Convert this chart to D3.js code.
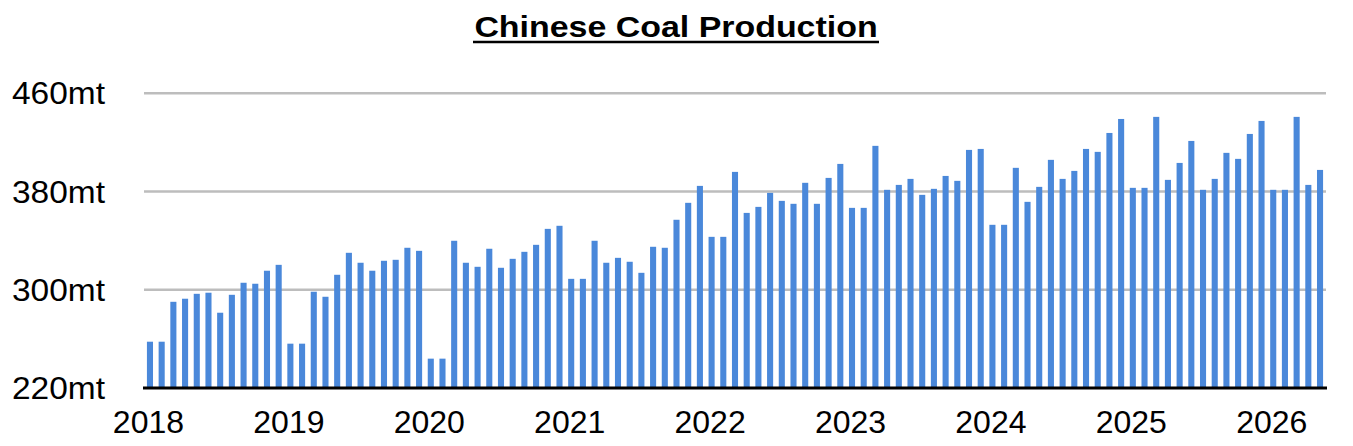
<!DOCTYPE html>
<html>
<head>
<meta charset="utf-8">
<script src="https://cdn.jsdelivr.net/npm/d3@7"></script>
<style>
  body { margin: 0; background: #fff; }
  text { font-family: "Liberation Sans", Arial, Helvetica, sans-serif; }
</style>
</head>
<body>
<div id="chart"></div>
<script>
// monthly production, million tonnes (Jan..Dec)
const prod2018 = [257.7, 257.7, 290.2, 292.7, 296.7, 297.6, 281.3, 295.9, 305.7, 304.9, 315.5, 320.3];
const prod2019 = [256.1, 256.1, 298.4, 294.3, 312.2, 330.1, 322.0, 315.5, 323.6, 324.4, 334.2, 331.7];
const prod2020 = [243.9, 243.9, 339.9, 322.0, 318.7, 333.4, 317.9, 325.2, 330.9, 336.6, 349.6, 352.1];
const prod2021 = [308.9, 308.9, 339.9, 322.0, 326.0, 322.8, 313.8, 335.0, 334.2, 357.0, 370.8, 384.6];
const prod2022 = [343.1, 343.1, 396.0, 362.6, 367.5, 378.9, 372.4, 370.0, 387.1, 370.0, 391.1, 402.5];
const prod2023 = [366.7, 366.7, 417.2, 381.4, 385.4, 390.3, 377.3, 382.2, 392.7, 388.7, 413.9, 414.7];
const prod2024 = [352.9, 352.9, 399.3, 371.6, 383.8, 405.8, 390.3, 396.8, 414.7, 412.3, 427.7, 439.1];
const prod2025 = [383.0, 383.0, 440.8, 389.5, 403.3, 421.2, 381.4, 390.3, 411.5, 406.6, 426.9, 437.5];
const prod2026 = [381.4, 381.4, 440.8, 385.4, 397.6];

const years = [2018, 2019, 2020, 2021, 2022, 2023, 2024, 2025, 2026];
const yTicks = [220, 300, 380, 460];

const byYear = [prod2018, prod2019, prod2020, prod2021, prod2022, prod2023, prod2024, prod2025, prod2026];
const data = [];
byYear.forEach((vals, i) => {
    vals.forEach((v, m) => data.push({year: years[i], month: m, key: years[i] + '-' + (m + 1), value: v}));
});

const width = 1353, height = 446;
const plot = {left: 144, right: 1326, top: 93.3, bottom: 388};

const svg = d3.select('#chart')
    .append('svg')
    .attr('width', width)
    .attr('height', height);

const x = d3.scaleBand()
    .domain(data.map(d => d.key))
    .range([plot.left, plot.right])
    .paddingInner(0.48)
    .paddingOuter(0.25);

const y = d3.scaleLinear()
    .domain([220, 460])
    .range([plot.bottom, plot.top]);

// title - the source type is wider than the font, so stretch it sideways
svg.append('text')
    .attr('transform', 'translate(676,37) scale(1.17,1)')
    .attr('text-anchor', 'middle')
    .style('font-size', '29px')
    .style('font-weight', 'bold')
    .text('Chinese Coal Production');

svg.append('line')
    .attr('x1', 473)
    .attr('x2', 879)
    .attr('y1', 42)
    .attr('y2', 42)
    .attr('stroke', '#000')
    .attr('stroke-width', 2.5);

// gridlines + y labels
svg.append('g')
    .selectAll('line')
    .data(yTicks.slice(1))
    .enter()
    .append('line')
    .attr('x1', plot.left)
    .attr('x2', plot.right)
    .attr('y1', d => y(d))
    .attr('y2', d => y(d))
    .attr('stroke', '#bdbdbd')
    .attr('stroke-width', 2.5);

svg.append('g')
    .selectAll('text')
    .data(yTicks)
    .enter()
    .append('text')
    .attr('transform', d => `translate(105,${y(d) + 11}) scale(1.08,1)`)
    .attr('text-anchor', 'end')
    .style('font-size', '31px')
    .text(d => d + 'mt');

// bars
svg.append('g')
    .selectAll('rect')
    .data(data)
    .enter()
    .append('rect')
    .attr('x', d => x(d.key))
    .attr('width', x.bandwidth())
    .attr('y', d => y(d.value))
    .attr('height', d => y(220) - y(d.value))
    .attr('fill', '#4a88da');

// baseline
svg.append('line')
    .attr('x1', plot.left - 1)
    .attr('x2', plot.right + 1)
    .attr('y1', plot.bottom)
    .attr('y2', plot.bottom)
    .attr('stroke', '#000')
    .attr('stroke-width', 3);

// year labels
svg.append('g')
    .selectAll('text')
    .data(years)
    .enter()
    .append('text')
    .attr('x', d => x(d + '-1') + x.bandwidth() / 2 - 1.5)
    .attr('y', 433)
    .attr('text-anchor', 'middle')
    .style('font-size', '32px')
    .text(d => d);
</script>
</body>
</html>
